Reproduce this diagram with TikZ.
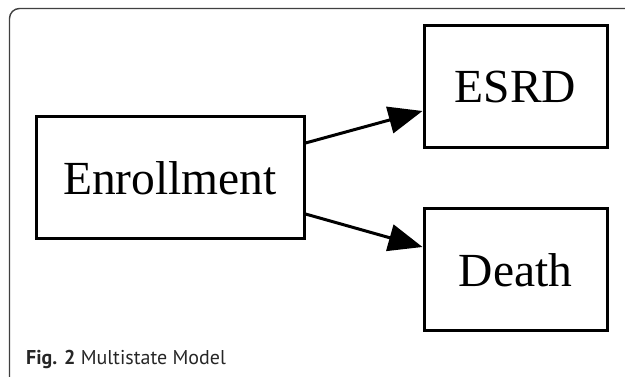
\documentclass[tikz,border=0pt]{standalone}
\usepackage{fontspec}
\setmainfont{Liberation Serif}
\newfontfamily\capfont{PT Sans}
\usetikzlibrary{arrows.meta,calc}
\begin{document}
\begin{tikzpicture}[x=1pt,y=-1pt,
  statebox/.style={draw=black,line width=3pt,minimum height=122pt,inner sep=0pt,font=\fontsize{47.5}{52}\selectfont},
  trans/.style={line width=3pt,-{Triangle[length=34pt,width=27pt]}}]
\useasboundingbox (0,0) rectangle (625,377);
\draw[line width=1.4pt,color=black!75,rounded corners=10pt] (9.5,390) -- (9.5,8.5) -- (640,8.5);
\node[statebox,minimum width=268pt] (enr) at (170,178) {Enrollment};
\node[statebox,minimum width=183pt] (esrd) at (515.5,87) {ESRD};
\node[statebox,minimum width=183pt] (death) at (515.5,270) {Death};
\draw[trans] ([yshift=35pt]enr.east) -- ([yshift=-24pt]esrd.west);
\draw[trans] ([yshift=-36pt]enr.east) -- ([yshift=23pt]death.west);
\node[anchor=base west,inner sep=0pt,font=\capfont\fontsize{20}{22}\selectfont,text=black!85] (cap) at (26,365) {\textbf{Fig. 2} Multistate Model};
\end{tikzpicture}
\end{document}
